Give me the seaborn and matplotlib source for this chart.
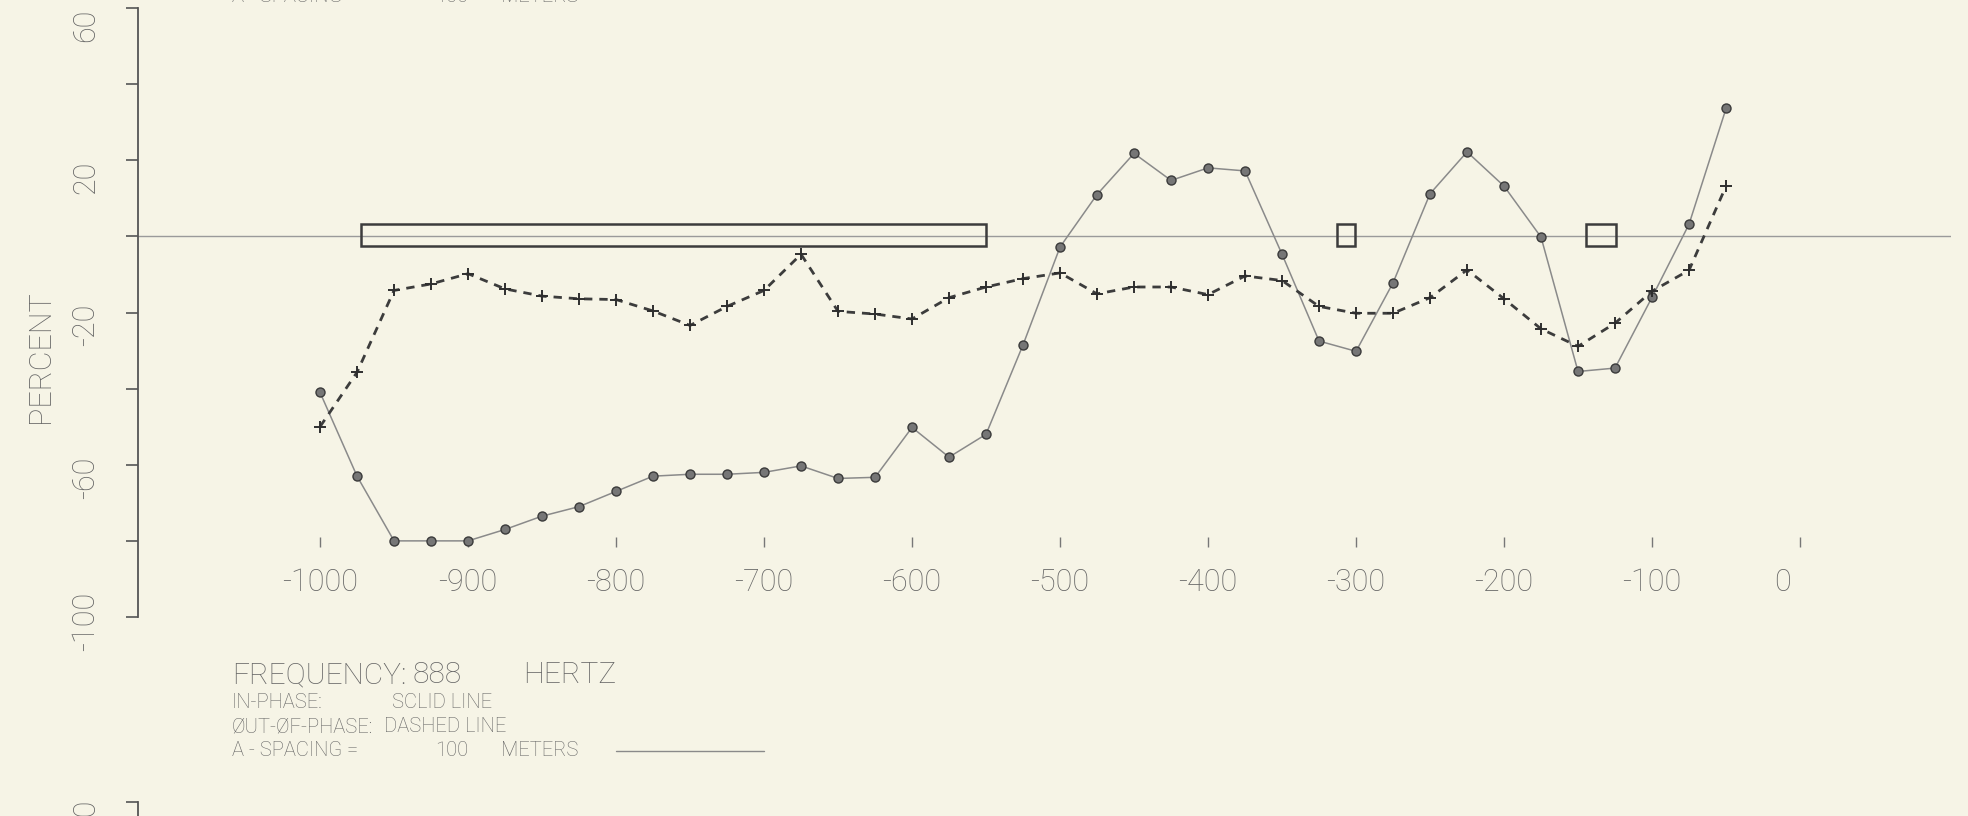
import matplotlib
matplotlib.use("Agg")
import matplotlib.pyplot as plt
import matplotlib.transforms as mtransforms
from matplotlib.patches import Rectangle
import seaborn as sns

# station positions along the profile (meters)
stations = [-1000, -975, -950, -925, -900, -875, -850, -825, -800, -775,
            -750, -725, -700, -675, -650, -625, -600, -575, -550, -525,
            -500, -475, -450, -425, -400, -375, -350, -325, -300, -275,
            -250, -225, -200, -175, -150, -125, -100, -75, -50]

# in-phase response, percent (solid line)
in_phase = [-41, -63, -80, -80, -80, -77, -73.5, -71, -67, -63,
            -62.5, -62.5, -62, -60.3, -63.6, -63.3, -50.2, -58, -52, -28.5,
            -2.8, 11, 21.8, 14.7, 18, 17.2, -4.7, -27.5, -30.2, -12.2,
            11.2, 22.2, 13.2, -0.2, -35.5, -34.6, -16, 3.2, 33.6]

# out-of-phase response, percent (dashed line)
out_of_phase = [-50, -35.7, -14.2, -12.5, -9.8, -13.8, -15.7, -16.4, -16.6, -19.6,
                -23.4, -18.4, -14.2, -4.7, -19.7, -20.4, -21.7, -16.1, -13.3, -11.1,
                -9.6, -15.1, -13.3, -13.3, -15.3, -10.4, -11.6, -18.4, -20.2, -20.2,
                -16.1, -8.8, -16.4, -24.3, -28.9, -22.8, -14.4, -8.9, 13.2]

# interpreted conductors drawn on the zero line
body_left = [-972, -313, -144.5]
body_right = [-550, -301, -124.6]
body_bottom = -2.4
body_top = 3.3

xtick_vals = [-1000, -900, -800, -700, -600, -500, -400, -300, -200, -100, 0]
ytick_vals = [-100, -80, -60, -40, -20, 0, 20, 40, 60]
ylabel_vals = [60, 20, -20, -60, -100]

frequency = 888
a_spacing = 100
scale_start = -800

paper = '#f6f4e6'
ink = '#666666'
dark = '#3c3c3c'

sns.set_theme(style='white')
plt.rcParams['font.family'] = ['Roboto', 'DejaVu Sans']
plt.rcParams['font.weight'] = 'light'

W, H = 1968, 816
fig = plt.figure(figsize=(W / 100, H / 100), dpi=100, facecolor=paper)
ax = fig.add_axes([138 / W, 1 - 617 / H, (1951 - 138) / W, (617 - 8) / H])
ax.set_facecolor('none')
ax.set_xlim(-1123, 102)
ax.set_ylim(-100, 60)

ax.axhline(0, color='#9a9a9a', lw=1.0, zorder=1)

sns.lineplot(x=stations, y=in_phase, ax=ax, color='#8a8a8a', linewidth=1.1,
             marker='o', markersize=6.5, markerfacecolor='#767676',
             markeredgecolor='#3a3a3a', markeredgewidth=1.0, zorder=3)
sns.lineplot(x=stations, y=out_of_phase, ax=ax, color=dark, linewidth=2.0,
             linestyle=(0, (3, 2.5)), marker='+', markersize=8,
             markeredgewidth=1.4, markeredgecolor='#2e2e2e', zorder=3)

for l, r in zip(body_left, body_right):
    ax.add_patch(Rectangle((l, body_bottom), r - l, body_top - body_bottom,
                           fill=False, ec=dark, lw=1.8, zorder=2))

# axes styling
for side in ['top', 'right', 'bottom']:
    ax.spines[side].set_visible(False)
ax.spines['left'].set_color('#555555')
ax.spines['left'].set_linewidth(1.3)
# the plotter put the x ticks inside the frame, above its bottom
ax.spines['bottom'].set_position(('data', -79))

ax.set_yticks(ytick_vals)
ax.set_yticklabels([])
ax.tick_params(axis='y', length=8.6, width=1.2, color='#555555', direction='out', left=True)

ax.set_xticks(xtick_vals)
ax.set_xticklabels([str(v) for v in xtick_vals])
ax.tick_params(axis='x', length=7, width=1, color='#777777', direction='out',
               bottom=True, pad=15, labelsize=22, labelcolor=ink)
# the plotter set the "0" label a little left of its tick
zero_lab = ax.get_xticklabels()[-1]
zero_lab.set_transform(zero_lab.get_transform() +
                       mtransforms.ScaledTranslation(-0.18, 0, fig.dpi_scale_trans))

ylab_trans = ax.get_yaxis_transform() + mtransforms.ScaledTranslation(0, -0.34, fig.dpi_scale_trans)
for v in ylabel_vals:
    ax.text(-0.0287, v, str(v), transform=ylab_trans, rotation=90,
            rotation_mode='anchor', ha='left', va='center', fontsize=22, color=ink)

fig.text(40 / W, 1 - 357 / H, 'PERCENT', rotation=90, ha='center', va='center',
         fontsize=22, color=ink)

# caption block
caption = [
    (675, 21.5, [(232, 'FREQUENCY:'), (412, f'{frequency}'), (523, 'HERTZ')]),
    (703, 14.5, [(232, 'IN-PHASE:'), (392, 'SCLID LINE')]),
    (727, 14.5, [(232, 'ØUT-ØF-PHASE:'), (384, 'DASHED LINE')]),
    (751, 14.5, [(232, 'A - SPACING ='), (435, f'{a_spacing}'), (501, 'METERS')]),
]
for ypx, size, parts in caption:
    for xpx, s in parts:
        fig.text(xpx / W, 1 - ypx / H, s, va='center', fontsize=size, color=ink)

bar_trans = mtransforms.blended_transform_factory(ax.transData, fig.transFigure)
ax.plot([scale_start, scale_start + a_spacing], [1 - 751 / H, 1 - 751 / H],
        transform=bar_trans, color='#8a8a8a', lw=1.0, clip_on=False)

# remnant of the panel above, cut by the page edge
for xpx, s in [(232, 'A - SPACING ='), (435, f'{a_spacing}'), (501, 'METERS')]:
    fig.text(xpx / W, 1 - 1.5 / H, s, va='baseline', fontsize=14.5, color=ink)

# top of the next panel, cut by the page edge
ax2 = fig.add_axes([138 / W, 1 - 802 / H - (617 - 8) / H, (1951 - 138) / W, (617 - 8) / H])
ax2.set_facecolor('none')
ax2.set_ylim(-100, 60)
ax2.set_xlim(-1123, 102)
for side in ['top', 'right', 'bottom']:
    ax2.spines[side].set_visible(False)
ax2.spines['left'].set_color('#555555')
ax2.spines['left'].set_linewidth(1.3)
ax2.set_xticks([])
ax2.set_yticks(ytick_vals)
ax2.set_yticklabels([])
ax2.tick_params(axis='y', length=8.6, width=1.2, color='#555555', direction='out', left=True)
ylab2_trans = ax2.get_yaxis_transform() + mtransforms.ScaledTranslation(0, -0.30, fig.dpi_scale_trans)
ax2.text(-0.0287, 60, '60', transform=ylab2_trans, rotation=90,
         rotation_mode='anchor', ha='left', va='center', fontsize=22, color=ink)

fig.savefig('out.png', dpi=100, facecolor=paper)
